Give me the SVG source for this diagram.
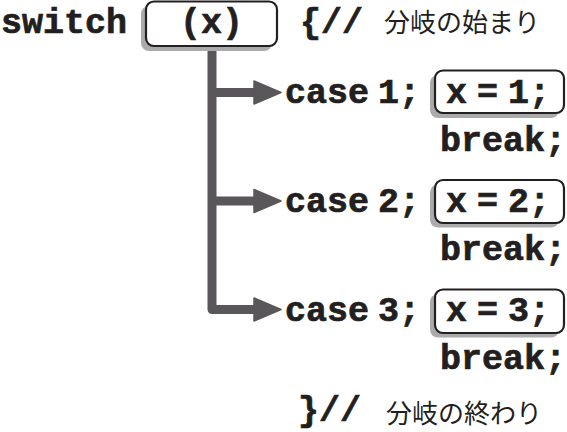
<svg xmlns="http://www.w3.org/2000/svg" width="567" height="432" viewBox="0 0 567 432">
<defs>
<style>
.code{font-family:"Liberation Mono","Courier New",monospace;font-weight:bold;font-size:35px;fill:#231f20;stroke:#231f20;stroke-width:0.7}
.jp{font-family:"Noto Sans CJK JP","Noto Sans",sans-serif;font-size:26px;fill:#231f20}
.box{fill:#fff;stroke:#231f20;stroke-width:2.2}
.shadow{fill:#acabac}
.wire{fill:none;stroke:#59575a;stroke-width:9;stroke-linejoin:round}
.head{fill:#59575a;stroke:#59575a;stroke-width:1.5;stroke-linejoin:round}
</style>
</defs>
<rect width="567" height="432" fill="#fff"/>
<g id="connectors">
<path class="wire" d="M212,46 V309.5 H256"/>
<path class="wire" d="M212,92.5 H256"/>
<path class="wire" d="M212,201 H256"/>
<polygon class="head" points="254,81 281,92.5 254,104"/>
<polygon class="head" points="254,189.5 281,201 254,212.5"/>
<polygon class="head" points="254,298 281,309.5 254,321"/>
</g>
<g id="switch">
<text class="code" x="1" y="33">switch</text>
</g>
<g id="condition">
<rect class="shadow" x="141" y="6" width="131" height="45" rx="8"/>
<rect class="box" x="146" y="1.5" width="131" height="44.5" rx="8"/>
<text class="code" x="211.5" y="33" text-anchor="middle">(x)</text>
</g>
<g id="comment-start">
<text class="code" x="300" y="33">{//</text>
<text class="jp" x="384" y="32">分岐の始まり</text>
</g>
<g id="case1">
<text class="code" x="285" y="103" word-spacing="-12">case 1;</text>
<rect class="shadow" x="430" y="75" width="129" height="43" rx="8"/>
<rect class="box" x="435" y="70.5" width="129" height="42.5" rx="8"/>
<text class="code" x="446" y="103" word-spacing="-11">x = 1;</text>
<text class="code" x="440" y="151">break;</text>
</g>
<g id="case2">
<text class="code" x="285" y="212" word-spacing="-12">case 2;</text>
<rect class="shadow" x="430" y="184.5" width="129" height="43" rx="8"/>
<rect class="box" x="435" y="180" width="129" height="43" rx="8"/>
<text class="code" x="446" y="212" word-spacing="-11">x = 2;</text>
<text class="code" x="440" y="260">break;</text>
</g>
<g id="case3">
<text class="code" x="285" y="321" word-spacing="-12">case 3;</text>
<rect class="shadow" x="430" y="294" width="129" height="43.5" rx="8"/>
<rect class="box" x="435" y="289.5" width="129" height="43.5" rx="8"/>
<text class="code" x="446" y="321" word-spacing="-11">x = 3;</text>
<text class="code" x="440" y="369">break;</text>
</g>
<g id="comment-end">
<text class="code" x="298" y="421">}//</text>
<text class="jp" x="386" y="423">分岐の終わり</text>
</g>
</svg>
